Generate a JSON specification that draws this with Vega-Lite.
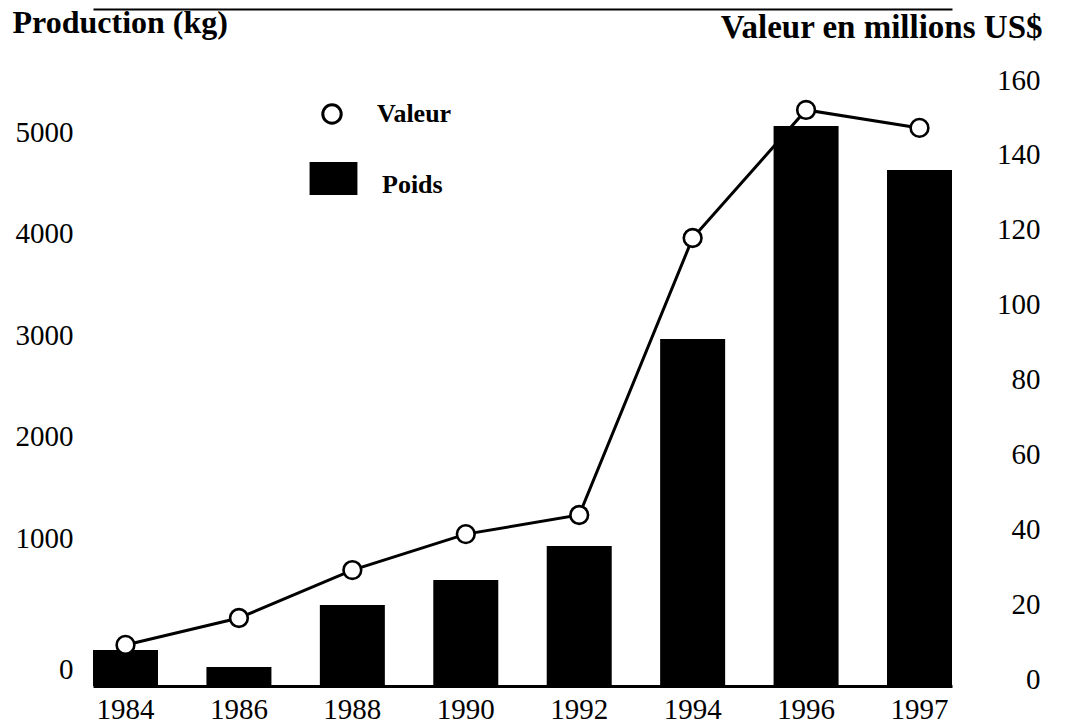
{
  "$schema": "https://vega.github.io/schema/vega-lite/v6.json",
  "width": 859,
  "height": 616,
  "autosize": {"type": "none"},
  "padding": {"left": 93, "top": 70, "right": 114, "bottom": 41},
  "background": "white",
  "config": {
    "view": {"stroke": null},
    "font": "Liberation Serif",
    "axis": {
      "grid": false,
      "ticks": false,
      "labelFont": "Liberation Serif",
      "labelFontSize": 29,
      "labelColor": "black",
      "titleFont": "Liberation Serif",
      "titleFontSize": 32,
      "titleFontWeight": "bold",
      "titleColor": "black"
    }
  },
  "data": {
    "values": [
      {"year": "1984", "poids": 243, "valeur": 9.1},
      {"year": "1986", "poids": 128, "valeur": 16.3},
      {"year": "1988", "poids": 547, "valeur": 29.1},
      {"year": "1990", "poids": 716, "valeur": 38.7},
      {"year": "1992", "poids": 946, "valeur": 43.8},
      {"year": "1994", "poids": 2961, "valeur": 117.8},
      {"year": "1996", "poids": 5059, "valeur": 152.0},
      {"year": "1997", "poids": 4626, "valeur": 147.2}
    ]
  },
  "layer": [
    {
      "mark": {"type": "bar", "color": "black"},
      "encoding": {
        "x": {
          "field": "year",
          "type": "ordinal",
          "scale": {"paddingInner": 0.427, "paddingOuter": 0},
          "axis": {
            "orient": "bottom",
            "title": null,
            "labelAngle": 0,
            "domainColor": "black",
            "domainWidth": 3,
            "labelPadding": 9
          }
        },
        "y": {
          "field": "poids",
          "type": "quantitative",
          "scale": {"domain": [0, 1000, 5000], "range": [616, 468, 62], "nice": false},
          "axis": {
            "orient": "left",
            "values": [0, 1000, 2000, 3000, 4000, 5000],
            "format": "d",
            "domain": false,
            "labelPadding": 20,
            "labelOffset": {"condition": {"test": "datum.value === 0", "value": -17}, "value": 0},
            "title": "Production (kg)",
            "titleAngle": 0,
            "titleAlign": "left",
            "titleBaseline": "alphabetic",
            "titleX": -81,
            "titleY": -38
          }
        },
        "color": {
          "datum": "Poids",
          "scale": {"range": ["black"]},
          "legend": {
            "orient": "none",
            "legendX": 224,
            "legendY": 98,
            "title": null,
            "padding": 0,
            "symbolType": "M-1.45,-1.36L1.45,-1.36L1.45,0.64L-1.45,0.64Z",
            "symbolSize": 1089,
            "symbolFillColor": "black",
            "symbolStrokeWidth": 0,
            "labelOffset": 32,
            "labelFont": "Liberation Serif",
            "labelFontWeight": "bold",
            "labelFontSize": 26,
            "labelColor": "black"
          }
        }
      }
    },
    {
      "layer": [
        {
          "mark": {"type": "line", "color": "black", "strokeWidth": 3},
          "encoding": {
            "x": {
              "field": "year",
              "type": "ordinal",
              "axis": {
                "orient": "top",
                "title": null,
                "labels": false,
                "domainColor": "black",
                "domainWidth": 2,
                "offset": 61
              }
            },
            "y": {
              "field": "valeur",
              "type": "quantitative",
              "scale": {"domain": [0, 160], "range": [609, 10], "nice": false},
              "axis": {
                "orient": "right",
                "values": [0, 20, 40, 60, 80, 100, 120, 140, 160],
                "domain": false,
                "labelAlign": "right",
                "labelPadding": 88,
                "title": "Valeur en millions US$",
                "titleFontSize": 33,
                "titleAngle": 0,
                "titleAlign": "right",
                "titleBaseline": "alphabetic",
                "titleX": 90,
                "titleY": -33
              }
            }
          }
        },
        {
          "mark": {"type": "point", "shape": "circle", "filled": false, "fill": "white", "strokeWidth": 2.6, "size": 314, "opacity": 1},
          "encoding": {
            "x": {"field": "year", "type": "ordinal"},
            "y": {"field": "valeur", "type": "quantitative"},
            "stroke": {
              "datum": "Valeur",
              "scale": {"range": ["black"]},
              "legend": {
                "orient": "none",
                "legendX": 226,
                "legendY": 31,
                "title": null,
                "padding": 0,
                "symbolType": "circle",
                "symbolSize": 340,
                "symbolFillColor": "white",
                "symbolStrokeWidth": 3,
                "symbolOpacity": 1,
                "labelOffset": 32,
                "labelFont": "Liberation Serif",
                "labelFontWeight": "bold",
                "labelFontSize": 26,
                "labelColor": "black"
              }
            }
          }
        }
      ]
    }
  ],
  "resolve": {"scale": {"y": "independent"}, "axis": {"x": "independent"}}
}
